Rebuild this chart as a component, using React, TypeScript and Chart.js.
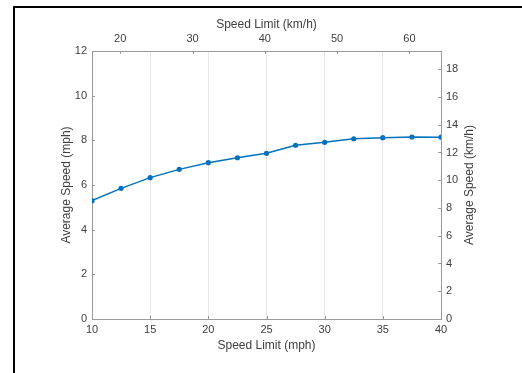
import React, { useEffect, useRef } from "react";
import { Chart, registerables } from "chart.js";

Chart.register(...registerables);

// ---- data ----
const MPH_TO_KMH = 1.609344;
const speedLimitMph = [10, 12.5, 15, 17.5, 20, 22.5, 25, 27.5, 30, 32.5, 35, 37.5, 40];
const avgSpeedMph = [5.3, 5.85, 6.33, 6.7, 7.0, 7.22, 7.42, 7.78, 7.91, 8.07, 8.12, 8.15, 8.14];
const mphLimitTicks = [10, 15, 20, 25, 30, 35, 40];
const mphSpeedTicks = [0, 2, 4, 6, 8, 10, 12];
const kmhLimitTicks = [20, 30, 40, 50, 60];
const kmhSpeedTicks = [0, 2, 4, 6, 8, 10, 12, 14, 16, 18];

const xTitle = "Speed Limit (mph)";
const x2Title = "Speed Limit (km/h)";
const yTitle = "Average Speed (mph)";
const y2Title = "Average Speed (km/h)";

const FONT = '"Liberation Sans", Arial, Helvetica, sans-serif';
const TEXT = "#404040";
const AXIS = "#9a9a9a";
const GRID = "#e6e6e6";
const LINE = "#0072BD";
const TITLE_SIZE = 12;

const setTicks = (arr: number[]) => (scale: any) => {
  scale.ticks = arr.map((v) => ({ value: v }));
};

const innerTicksPlugin = {
  id: "innerTicks",
  afterDraw(chart: any) {
    const { ctx, chartArea } = chart;
    const len = 3;
    ctx.save();
    ctx.strokeStyle = AXIS;
    ctx.lineWidth = 1;
    ctx.beginPath();
    const sx = chart.scales.x;
    sx.ticks.forEach((t: any) => {
      const p = Math.round(sx.getPixelForValue(t.value)) + 0.5;
      ctx.moveTo(p, chartArea.bottom);
      ctx.lineTo(p, chartArea.bottom - len);
    });
    const sx2 = chart.scales.x2;
    sx2.ticks.forEach((t: any) => {
      const p = Math.round(sx2.getPixelForValue(t.value)) + 0.5;
      ctx.moveTo(p, chartArea.top);
      ctx.lineTo(p, chartArea.top + len);
    });
    const sy = chart.scales.y;
    sy.ticks.forEach((t: any) => {
      const p = Math.round(sy.getPixelForValue(t.value)) + 0.5;
      ctx.moveTo(chartArea.left, p);
      ctx.lineTo(chartArea.left + len, p);
    });
    const sy2 = chart.scales.y2;
    sy2.ticks.forEach((t: any) => {
      const p = Math.round(sy2.getPixelForValue(t.value)) + 0.5;
      ctx.moveTo(chartArea.right, p);
      ctx.lineTo(chartArea.right - len, p);
    });
    ctx.stroke();

    // right axis title, reading bottom-to-top
    ctx.fillStyle = TEXT;
    ctx.font = `${TITLE_SIZE}px ${FONT}`;
    ctx.textAlign = "center";
    ctx.textBaseline = "middle";
    ctx.translate(chart.width - 52.5, (chartArea.top + chartArea.bottom) / 2);
    ctx.rotate(-Math.PI / 2);
    ctx.fillText(y2Title, 0, 0);
    ctx.restore();
  },
};

export default function App() {
  const ref = useRef<HTMLCanvasElement | null>(null);

  useEffect(() => {
    if (!ref.current) return;
    Chart.defaults.font.family = FONT;
    Chart.defaults.font.size = 11;
    Chart.defaults.color = TEXT;

    const points = speedLimitMph.map((x, i) => ({ x, y: avgSpeedMph[i] }));

    const chart = new Chart(ref.current, {
      type: "line",
      data: {
        datasets: [
          {
            data: points,
            borderColor: LINE,
            backgroundColor: LINE,
            borderWidth: 1.5,
            pointRadius: 2.6,
            pointBorderWidth: 0,
            pointBackgroundColor: LINE,
            tension: 0,
          },
        ],
      },
      options: {
        animation: false,
        responsive: false,
        devicePixelRatio: 1,
        layout: { padding: 0 },
        plugins: { legend: { display: false }, tooltip: { enabled: false } },
        scales: {
          x: {
            type: "linear",
            position: "bottom",
            min: 10,
            max: 40,
            afterBuildTicks: setTicks(mphLimitTicks),
            afterFit: (s: any) => {
              s.height = 54;
            },
            grid: { display: true, color: GRID, drawTicks: false, lineWidth: 1 },
            border: { display: true, color: AXIS, width: 1 },
            ticks: { padding: 4, color: TEXT, maxRotation: 0, autoSkip: false },
            title: {
              display: true,
              text: xTitle,
              color: TEXT,
              font: { size: TITLE_SIZE },
              padding: { top: 0, bottom: 20.3 },
            },
          },
          x2: {
            type: "linear",
            position: "top",
            min: 10 * MPH_TO_KMH,
            max: 40 * MPH_TO_KMH,
            afterBuildTicks: setTicks(kmhLimitTicks),
            afterFit: (s: any) => {
              s.height = 51;
            },
            grid: { display: false, drawTicks: false },
            border: { display: true, color: AXIS, width: 1 },
            ticks: { padding: 5, color: TEXT, maxRotation: 0, autoSkip: false },
            title: {
              display: true,
              text: x2Title,
              color: TEXT,
              font: { size: TITLE_SIZE },
              padding: { top: 17.8, bottom: 0 },
            },
          },
          y: {
            type: "linear",
            position: "left",
            min: 0,
            max: 12,
            afterBuildTicks: setTicks(mphSpeedTicks),
            afterFit: (s: any) => {
              s.width = 92;
            },
            grid: { display: false, drawTicks: false },
            border: { display: true, color: AXIS, width: 1 },
            ticks: { padding: 5, color: TEXT, autoSkip: false },
            title: {
              display: true,
              text: yTitle,
              color: TEXT,
              font: { size: TITLE_SIZE },
              padding: { top: 59.8, bottom: 0 },
            },
          },
          y2: {
            type: "linear",
            position: "right",
            min: 0,
            max: 12 * MPH_TO_KMH,
            afterBuildTicks: setTicks(kmhSpeedTicks),
            afterFit: (s: any) => {
              s.width = 81;
            },
            grid: { display: false, drawTicks: false },
            border: { display: true, color: AXIS, width: 1 },
            ticks: { padding: 5, color: TEXT, autoSkip: false },
          },
        },
      },
      plugins: [innerTicksPlugin],
    });
    return () => chart.destroy();
  }, []);

  return (
    <div
      style={{
        position: "absolute",
        left: 0,
        top: 0,
        width: 522,
        height: 373,
        overflow: "hidden",
        background: "#fff",
      }}
    >
      <canvas
        ref={ref}
        width={522}
        height={373}
        style={{ position: "absolute", left: 0, top: 0, width: 522, height: 373 }}
      />
      <div
        style={{
          position: "absolute",
          left: 13,
          top: 6,
          width: 600,
          height: 500,
          borderLeft: "2px solid #000",
          borderTop: "2px solid #000",
          pointerEvents: "none",
        }}
      />
    </div>
  );
}
